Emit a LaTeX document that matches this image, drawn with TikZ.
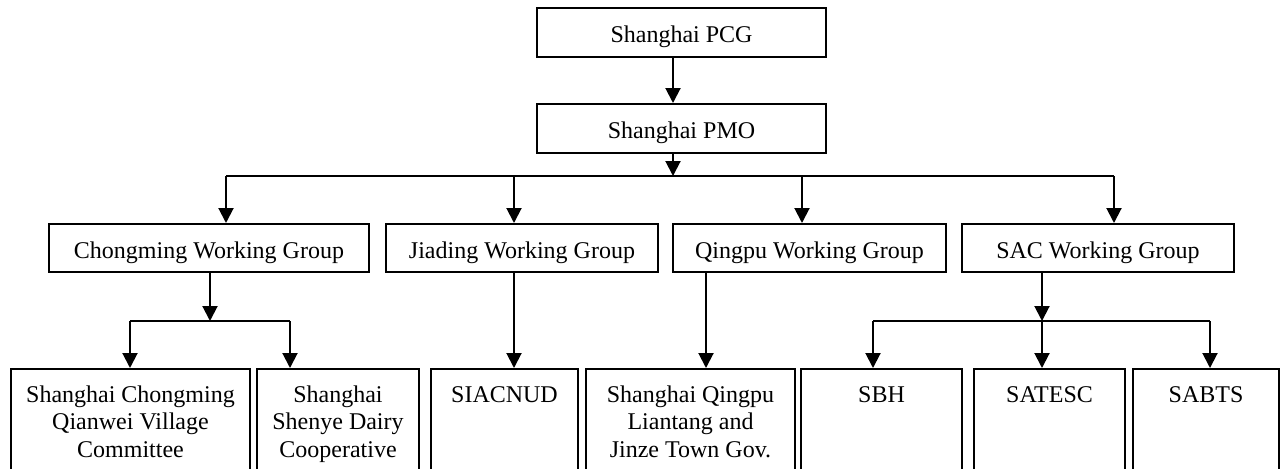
\documentclass[tikz,border=0pt]{standalone}
\usepackage{fontspec}
\setmainfont{Liberation Serif}
\usetikzlibrary{arrows.meta}
\tikzset {>={Triangle[length=7.5pt,width=7.5pt]}}
\tikzset{
  groupbox/.style={draw,line width=1pt,font=\fontsize{12}{13.75}\selectfont,
    inner sep=0pt,minimum height=24pt,text height=11pt,text depth=1pt},
  unitbox/.style={draw,line width=1pt,font=\fontsize{12}{13.75}\selectfont,
    anchor=north,inner sep=0pt,align=flush center,text height=16.5pt,text depth=80pt}
}

\begin{document}
\begin{tikzpicture}[x=1pt,y=1pt,line width=1pt]
\useasboundingbox (0,0) rectangle (640,234);

% top
\node[groupbox,minimum width=144.5pt,minimum height=24.5pt] (pcg) at (340.75,217.75) {Shanghai PCG};
\node[groupbox,minimum width=144.5pt,minimum height=24.5pt] (pmo) at (340.75,169.75) {Shanghai PMO};

% working groups
\node[groupbox,minimum width=160pt] (chongming) at (104.5,110) {Chongming Working Group};
\node[groupbox,minimum width=136pt] (jiading) at (261,110) {Jiading Working Group};
\node[groupbox,minimum width=136.5pt] (qingpu) at (404.75,110) {Qingpu Working Group};
\node[groupbox,minimum width=136pt] (sac) at (549,110) {SAC Working Group};

% units
\node[unitbox,text width=119.5pt] (qianwei) at (65.25,50) {Shanghai Chongming\\Qianwei Village\\Committee};
\node[unitbox,text width=81pt] (shenye) at (169,50) {Shanghai\\Shenye Dairy\\Cooperative};
\node[unitbox,text width=73.5pt] (siacnud) at (252.25,50) {SIACNUD};
\node[unitbox,text width=104.5pt] (liantang) at (345.25,50) {Shanghai Qingpu\\Liantang and\\Jinze Town Gov.};
\node[unitbox,text width=80.5pt] (sbh) at (440.75,50) {SBH};
\node[unitbox,text width=75.5pt] (satesc) at (524.75,50) {SATESC};
\node[unitbox,text width=73pt] (sabts) at (603,50) {SABTS};

% connectors
\coordinate (pmobar) at (336.5,146);
\draw[->] (pcg.south -| pmobar) -- (pmo.north -| pmobar);
\draw[->] (pmo.south -| pmobar) -- (pmobar);
\path
  (113,146) coordinate (c1)
  (257,146) coordinate (j1)
  (401,146) coordinate (q1)
  (557,146) coordinate (s1);
\draw (c1) -- (s1);
\foreach \jn/\grp in {c1/chongming,j1/jiading,q1/qingpu,s1/sac}
  \draw[->] (\jn) -- (\grp.north -| \jn);

\path
  (105,73.5) coordinate (c2)
  (65,73.5) coordinate (c3)
  (145,73.5) coordinate (c4);
\draw[->] (chongming.south -| c2) -- (c2);
\draw (c3) -- (c4);
\draw[->] (c3) -- (qianwei.north -| c3);
\draw[->] (c4) -- (shenye.north -| c4);

\draw[->] (jiading.south -| j1) -- (siacnud.north -| j1);

\coordinate (q2) at (353,73.5);
\draw[->] (qingpu.south -| q2) -- (liantang.north -| q2);

\path
  (521,73.5) coordinate (s2)
  (436.5,73.5) coordinate (s3)
  (605,73.5) coordinate (s4);
\draw[->] (sac.south -| s2) -- (s2);
\draw (s3) -- (s4);
\foreach \jn/\leaf in {s3/sbh,s2/satesc,s4/sabts}
  \draw[->] (\jn) -- (\leaf.north -| \jn);
\end{tikzpicture}
\end{document}
